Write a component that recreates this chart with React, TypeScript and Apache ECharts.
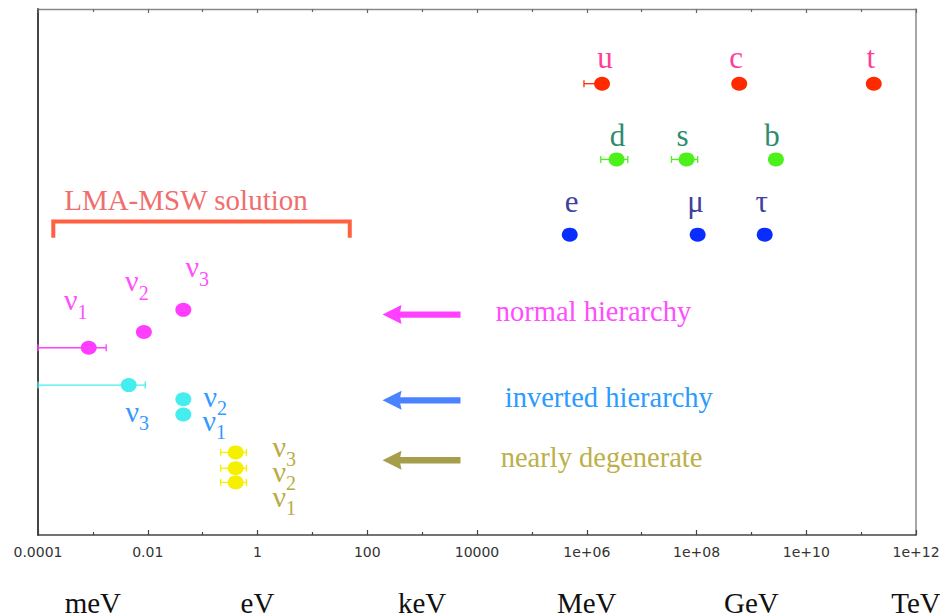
import { useEffect, useRef } from "react";
import * as echarts from "echarts";

// ---------- axis ----------
const xMinExp = -4;
const xMaxExp = 12;
const xTickStep = 2;
const tickLabels = ["0.0001", "0.01", "1", "100", "10000", "1e+06", "1e+08", "1e+10", "1e+12"];
const unitNames = ["meV", "eV", "keV", "MeV", "GeV", "TeV"];
const unitMass = [1e-3, 1, 1e3, 1e6, 1e9, 1e12];

// ---------- charged fermions (mass in eV, row = arbitrary vertical level 0..100) ----------
const upQuarkNames = ["u", "c", "t"];
const upQuarkMass = [1.9e6, 6.0e8, 1.7e11];
const upQuarkLow = [8.9e5, null, null];
const upQuarkHigh = [2.4e6, null, null];
const upQuarkRow = [85.8, 85.8, 85.8];

const downQuarkNames = ["d", "s", "b"];
const downQuarkMass = [3.5e6, 6.6e7, 2.8e9];
const downQuarkLow = [1.8e6, 3.5e7, null];
const downQuarkHigh = [5.6e6, 1.05e8, null];
const downQuarkRow = [71.4, 71.4, 71.4];

const leptonNames = ["e", "μ", "τ"];
const leptonMass = [4.9e5, 1.05e8, 1.75e9];
const leptonRow = [57.1, 57.1, 57.1];

// ---------- neutrinos (ν1, ν2, ν3) ----------
const nuNames = ["ν{s|1}", "ν{s|2}", "ν{s|3}"];
const normalMass = [8.4e-4, 8.5e-3, 4.45e-2];
const normalLow = [1e-4, null, null];
const normalHigh = [1.75e-3, null, null];
const normalRows = [35.6, 38.6, 42.8];

const invertedMass = [4.45e-2, 4.45e-2, 4.5e-3];
const invertedLow = [null, null, 1e-4];
const invertedHigh = [null, null, 9e-3];
const invertedRows = [22.9, 25.8, 28.5];

const degenerateMass = [0.4, 0.4, 0.4];
const degenerateLow = [0.213, 0.213, 0.213];
const degenerateHigh = [0.627, 0.627, 0.627];
const degenerateRows = [10.0, 12.7, 15.7];

// ---------- annotations ----------
const schemeLabels = ["normal hierarchy", "inverted hierarchy", "nearly degenerate"];
const schemeArrowTip = [190, 190, 190];
const schemeArrowTail = [5000, 5000, 5000];
const schemeTextStart = [2.2e4, 3.2e4, 2.7e4];
const schemeRows = [41.9, 25.6, 14.2];

const lmaLabel = "LMA-MSW solution";
const lmaRange = [1.9e-4, 48];
const lmaBracketRows = [59.6, 56.5];
const lmaTextStart = [3.0e-4];
const lmaTextRow = [63.7];

// ---------- styles ----------
const SERIF = '"Liberation Serif", "Times New Roman", serif';
const SANS = '"DejaVu Sans", sans-serif';
const COL = {
  upPoint: "#ff2a00",
  upText: "#ff3d9a",
  downPoint: "#4cf01a",
  downText: "#2e8c6e",
  leptonPoint: "#0a2dff",
  leptonText: "#40409f",
  normalPoint: "#ff3cff",
  normalText: "#ff4dff",
  invPoint: "#44eeee",
  invText: "#3399ff",
  degPoint: "#f5f000",
  degText: "#b8ac3f",
};
const schemeArrowColors = ["#ff40ff", "#4a82ff", "#a69e4a"];
const schemeTextColors = ["#ff4dff", "#2a9bff", "#bdb048"];

const upOffsets = [[3, -26.5], [-3, -26.5], [-3, -26.5]];
const downOffsets = [[1, -23.5], [-4, -23.5], [-4, -23.5]];
const leptonOffsets = [[2, -33.5], [-2, -33.5], [-3, -33.5]];
const normalOffsets = [[-13, -48], [-7, -51], [14, -43]];
const invertedOffsets = [[31, 5.5], [32, -3], [8.5, 26]];
const degenerateOffsets = [[48.5, 14], [48.5, 3.3], [48.5, -5.7]];

const lg = Math.log10;

function pointSeries(
  names: string[],
  masses: number[],
  rows: number[],
  color: string,
  textColor: string,
  offsets: number[][],
  fontSize: number,
  lineHeight: number
) {
  return {
    type: "scatter",
    symbol: "circle",
    symbolSize: [16, 14],
    z: 4,
    itemStyle: { color, opacity: 1 },
    label: {
      show: true,
      position: "inside",
      color: textColor,
      fontFamily: SERIF,
      fontSize,
      lineHeight,
      formatter: (p: any) => p.name,
      rich: {
        s: {
          color: textColor,
          fontFamily: SERIF,
          fontSize: 20,
          verticalAlign: "bottom",
        },
      },
    },
    data: masses.map((m, i) => ({
      name: names[i],
      value: [lg(m), rows[i]],
      label: { offset: offsets[i] },
    })),
  };
}

function errorSeries(lows: (number | null)[], highs: (number | null)[], rows: number[], color: string) {
  const data: number[][] = [];
  lows.forEach((lo, i) => {
    const hi = highs[i];
    if (lo != null && hi != null) data.push([lg(lo), lg(hi), rows[i]]);
  });
  return {
    type: "custom",
    z: 3,
    silent: true,
    encode: { x: [0, 1], y: 2 },
    data,
    renderItem: (_params: any, api: any) => {
      const y = api.value(2);
      const a = api.coord([api.value(0), y]);
      const b = api.coord([api.value(1), y]);
      const cap = 3.5;
      const st = { stroke: color, lineWidth: 1.3 };
      return {
        type: "group",
        children: [
          { type: "line", shape: { x1: a[0], y1: a[1], x2: b[0], y2: b[1] }, style: st },
          { type: "line", shape: { x1: a[0], y1: a[1] - cap, x2: a[0], y2: a[1] + cap }, style: st },
          { type: "line", shape: { x1: b[0], y1: b[1] - cap, x2: b[0], y2: b[1] + cap }, style: st },
        ],
      };
    },
  };
}

function buildOption() {
  const xAxisCommon = {
    type: "value",
    min: xMinExp,
    max: xMaxExp,
    interval: xTickStep,
    splitLine: { show: false },
    minorSplitLine: { show: false },
  };
  return {
    animation: false,
    backgroundColor: "#ffffff",
    grid: { left: 38, right: 24, top: 9, bottom: 81, containLabel: false, outerBoundsMode: "none" },
    xAxis: [
      {
        ...xAxisCommon,
        position: "bottom",
        axisLine: { show: true, onZero: false, lineStyle: { color: "#444", width: 1.6 } },
        axisTick: { show: true, inside: true, length: 5, lineStyle: { color: "#444", width: 1.2 } },
        minorTick: { show: true, splitNumber: 2, length: 3, lineStyle: { color: "#444", width: 1.2 } },
        axisLabel: {
          show: true,
          margin: 10,
          fontFamily: SANS,
          fontSize: 14,
          color: "#333",
          formatter: (v: number) => tickLabels[Math.round((v - xMinExp) / xTickStep)] ?? "",
        },
      },
      {
        ...xAxisCommon,
        position: "top",
        axisLine: { show: true, onZero: false, lineStyle: { color: "#888", width: 1.4 } },
        axisTick: { show: true, inside: true, length: 4, lineStyle: { color: "#666", width: 1.2 } },
        minorTick: { show: true, splitNumber: 2, length: 3, lineStyle: { color: "#666", width: 1.2 } },
        axisLabel: { show: false },
      },
    ],
    yAxis: [
      {
        type: "value",
        min: 0,
        max: 100,
        position: "left",
        axisLine: { show: true, onZero: false, lineStyle: { color: "#444", width: 2 } },
        axisTick: { show: false },
        axisLabel: { show: false },
        splitLine: { show: false },
      },
      {
        type: "value",
        min: 0,
        max: 100,
        position: "right",
        axisLine: { show: true, onZero: false, lineStyle: { color: "#888", width: 1.5 } },
        axisTick: { show: false },
        axisLabel: { show: false },
        splitLine: { show: false },
      },
    ],
    series: [
      errorSeries(upQuarkLow, upQuarkHigh, upQuarkRow, COL.upPoint),
      errorSeries(downQuarkLow, downQuarkHigh, downQuarkRow, COL.downPoint),
      errorSeries(normalLow, normalHigh, normalRows, COL.normalPoint),
      errorSeries(invertedLow, invertedHigh, invertedRows, COL.invPoint),
      errorSeries(degenerateLow, degenerateHigh, degenerateRows, COL.degPoint),
      pointSeries(upQuarkNames, upQuarkMass, upQuarkRow, COL.upPoint, COL.upText, upOffsets, 31, 31),
      pointSeries(downQuarkNames, downQuarkMass, downQuarkRow, COL.downPoint, COL.downText, downOffsets, 31, 31),
      pointSeries(leptonNames, leptonMass, leptonRow, COL.leptonPoint, COL.leptonText, leptonOffsets, 31, 31),
      pointSeries(nuNames, normalMass, normalRows, COL.normalPoint, COL.normalText, normalOffsets, 30, 44),
      pointSeries(nuNames, invertedMass, invertedRows, COL.invPoint, COL.invText, invertedOffsets, 30, 44),
      pointSeries(nuNames, degenerateMass, degenerateRows, COL.degPoint, COL.degText, degenerateOffsets, 30, 44),
      // hierarchy arrows + texts
      {
        type: "custom",
        silent: true,
        z: 2,
        encode: { x: [0, 1, 2], y: 3 },
        data: schemeLabels.map((_, i) => [
          lg(schemeArrowTip[i]),
          lg(schemeArrowTail[i]),
          lg(schemeTextStart[i]),
          schemeRows[i],
          i,
        ]),
        renderItem: (_params: any, api: any) => {
          const y = api.value(3);
          const i = api.value(4);
          const tip = api.coord([api.value(0), y]);
          const tail = api.coord([api.value(1), y]);
          const tx = api.coord([api.value(2), y]);
          const headLen = 19;
          const headHalf = 9.5;
          const shaftHalf = 3.2;
          const col = schemeArrowColors[i];
          return {
            type: "group",
            children: [
              {
                type: "polygon",
                shape: {
                  points: [
                    [tip[0], tip[1]],
                    [tip[0] + headLen, tip[1] - headHalf],
                    [tip[0] + headLen - 2, tip[1]],
                    [tip[0] + headLen, tip[1] + headHalf],
                  ],
                },
                style: { fill: col },
              },
              {
                type: "rect",
                shape: {
                  x: tip[0] + headLen - 4,
                  y: tip[1] - shaftHalf,
                  width: tail[0] - tip[0] - headLen + 4,
                  height: shaftHalf * 2,
                },
                style: { fill: col },
              },
              {
                type: "text",
                x: tx[0],
                y: tip[1] - 3,
                style: {
                  text: schemeLabels[i],
                  fill: schemeTextColors[i],
                  fontFamily: SERIF,
                  fontSize: 28.5,
                  align: "left",
                  verticalAlign: "middle",
                },
              },
            ],
          };
        },
      },
      // LMA-MSW bracket
      {
        type: "custom",
        silent: true,
        z: 2,
        encode: { x: [0, 1, 4], y: [2, 3, 5] },
        data: [[lg(lmaRange[0]), lg(lmaRange[1]), lmaBracketRows[0], lmaBracketRows[1], lg(lmaTextStart[0]), lmaTextRow[0]]],
        renderItem: (_params: any, api: any) => {
          const lo = api.value(0);
          const hi = api.value(1);
          const top = api.value(2);
          const bot = api.value(3);
          const p1 = api.coord([lo, bot]);
          const p2 = api.coord([lo, top]);
          const p3 = api.coord([hi, top]);
          const p4 = api.coord([hi, bot]);
          const t = api.coord([api.value(4), api.value(5)]);
          return {
            type: "group",
            children: [
              {
                type: "polyline",
                shape: { points: [p1, p2, p3, p4] },
                style: { stroke: "#ff6040", lineWidth: 4, fill: "none", lineJoin: "miter" },
              },
              {
                type: "text",
                x: t[0],
                y: t[1],
                style: {
                  text: lmaLabel,
                  fill: "#f06e6e",
                  fontFamily: SERIF,
                  fontSize: 29,
                  align: "left",
                  verticalAlign: "middle",
                },
              },
            ],
          };
        },
      },
      // energy unit labels under the axis
      {
        type: "custom",
        silent: true,
        clip: false,
        encode: { x: 0, y: 1 },
        data: unitMass.map((m, i) => [lg(m), 0, i]),
        renderItem: (_params: any, api: any) => {
          const p = api.coord([api.value(0), api.value(1)]);
          return {
            type: "text",
            x: p[0],
            y: p[1] + 68,
            style: {
              text: unitNames[api.value(2)],
              fill: "#111",
              fontFamily: SERIF,
              fontSize: 29,
              align: "center",
              verticalAlign: "middle",
            },
          };
        },
      },
    ],
  };
}

export default function App() {
  const ref = useRef<HTMLDivElement>(null);
  useEffect(() => {
    if (!ref.current) return;
    const chart = echarts.init(ref.current, undefined, { renderer: "svg" });
    chart.setOption(buildOption() as any);
    return () => chart.dispose();
  }, []);
  return (
    <div
      ref={ref}
      style={{ position: "absolute", left: 0, top: 0, width: 940, height: 616, background: "#fff" }}
    />
  );
}
